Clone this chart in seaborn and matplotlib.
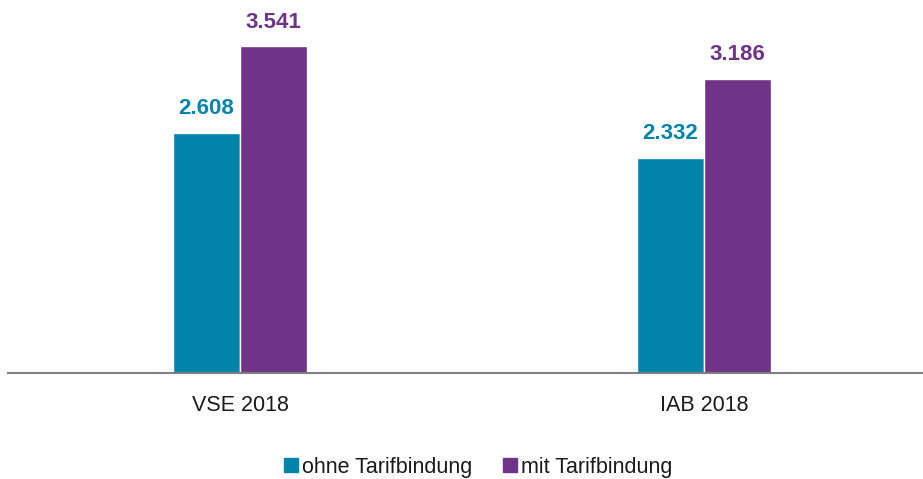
import pandas as pd
import matplotlib
matplotlib.use('Agg')
import matplotlib.pyplot as plt
import seaborn as sns

# Daten
kategorien = ['VSE 2018', 'IAB 2018']
gruppen = ['ohne Tarifbindung', 'mit Tarifbindung']
ohne_tarif = [2.608, 2.332]
mit_tarif = [3.541, 3.186]
farben = ['#0084AB', '#6F3487']

df = pd.DataFrame({
    'quelle': kategorien * 2,
    'gruppe': [gruppen[0]] * 2 + [gruppen[1]] * 2,
    'wert': ohne_tarif + mit_tarif,
})

sns.set_style('white')
plt.rcParams['font.family'] = ['Liberation Sans Narrow', 'Liberation Sans', 'DejaVu Sans']

fig = plt.figure(figsize=(9.23, 4.79), dpi=100)
ax = fig.add_axes([8 / 923, 106 / 479, 915 / 923, 373 / 479])

sns.barplot(data=df, x='quelle', y='wert', hue='gruppe', hue_order=gruppen,
            palette=farben, width=0.29, saturation=1, edgecolor='white',
            linewidth=1, ax=ax, legend=False)

# Werte über den Balken
for cont, farbe in zip(ax.containers, farben):
    labels = [f'{v:.3f}' for v in cont.datavalues]
    ax.bar_label(cont, labels=labels, padding=10, color=farbe,
                 fontsize=16, fontweight='bold')

ax.set_xlim(-0.5, 1.472)
ax.set_ylim(0, 4.045)
ax.set_xlabel('')
ax.set_ylabel('')
ax.set_yticks([])
ax.tick_params(axis='x', length=0, labelsize=15.5, pad=16, labelcolor='#1a1a1a')
for s in ['top', 'right', 'left']:
    ax.spines[s].set_visible(False)
ax.spines['bottom'].set_color('#7f7f7f')
ax.spines['bottom'].set_linewidth(1.5)

# Legende unten
handles = [plt.Rectangle((0, 0), 1, 1, color=c) for c in farben]
fig.legend(handles, gruppen, loc='center', bbox_to_anchor=(0.518, 1 - 467 / 479),
           ncol=2, frameon=False, fontsize=15.5, handlelength=0.65, handleheight=0.65,
           handletextpad=0.2, columnspacing=1.4, labelcolor='#1a1a1a')

fig.savefig('out.png', dpi=100)
